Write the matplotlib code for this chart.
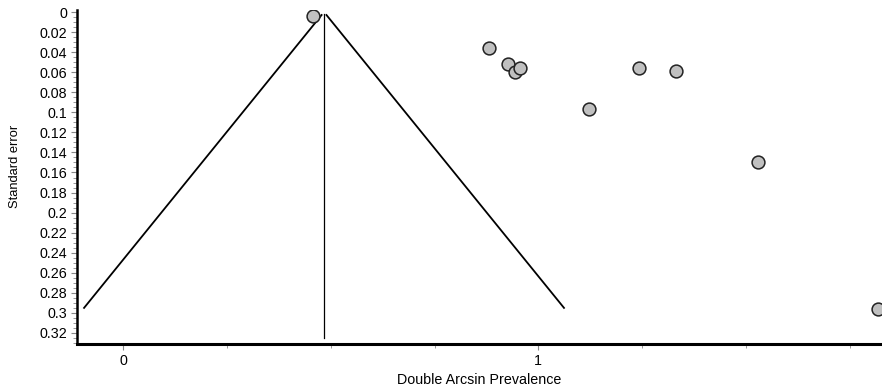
import matplotlib
matplotlib.use("Agg")
import matplotlib.pyplot as plt
from matplotlib.ticker import MultipleLocator, FixedLocator, FuncFormatter
import numpy as np

plt.rcParams['font.family'] = ['Liberation Sans', 'DejaVu Sans']

# Study data
effect = [0.457, 0.881, 0.927, 0.944, 0.956, 1.122, 1.242, 1.332, 1.529, 1.819]
std_err = [0.004, 0.036, 0.052, 0.060, 0.056, 0.097, 0.056, 0.059, 0.150, 0.296]
pooled = 0.4836
funnel_se_min = 0.003
funnel_se_max = 0.295
vline_se_min = 0.002
vline_se_max = 0.325
x_ticks_major = [0, 1]
y_ticks = [0, 0.02, 0.04, 0.06, 0.08, 0.1, 0.12, 0.14, 0.16, 0.18, 0.2,
           0.22, 0.24, 0.26, 0.28, 0.3, 0.32]

fig = plt.figure(figsize=(8.82, 3.9), dpi=100)
ax = fig.add_axes([77/882, 46/390, 1 - 77/882, (344-10)/390])

se_line = np.array([funnel_se_min, funnel_se_max])
ax.plot(pooled - 1.96*se_line, se_line, color='black', lw=1.3)
ax.plot(pooled + 1.96*se_line, se_line, color='black', lw=1.3)
ax.plot([pooled, pooled], [vline_se_min, vline_se_max], color='black', lw=0.9)

ax.scatter(effect, std_err, s=85, facecolor='#c0c0c0', edgecolor='#222222',
           linewidths=1.1, zorder=3)

ax.set_xlim(-0.1116, 1.828)
ax.set_ylim(0.331, -0.002)

ax.xaxis.set_major_locator(FixedLocator(x_ticks_major))
ax.xaxis.set_minor_locator(MultipleLocator(0.25))
ax.yaxis.set_major_locator(FixedLocator(y_ticks))
ax.yaxis.set_minor_locator(MultipleLocator(0.005))
ax.yaxis.set_major_formatter(FuncFormatter(lambda v, p: ('%g' % round(v, 4))))

for s in ['top', 'right']:
    ax.spines[s].set_visible(False)
ax.spines['left'].set_linewidth(1.8)
ax.spines['bottom'].set_linewidth(2.2)

ax.tick_params(axis='both', which='major', length=4, width=0.8, labelsize=10.3,
               color='#888888', pad=3)
ax.tick_params(axis='both', which='minor', length=3, width=0.6, color='#888888')

ax.set_xlabel('Double Arcsin Prevalence', fontsize=10.3, labelpad=4)
ax.set_ylabel('Standard error', fontsize=9.3, labelpad=10)
ax.yaxis.set_label_coords(-0.069, 0.533)

fig.savefig('out.png', dpi=100)
